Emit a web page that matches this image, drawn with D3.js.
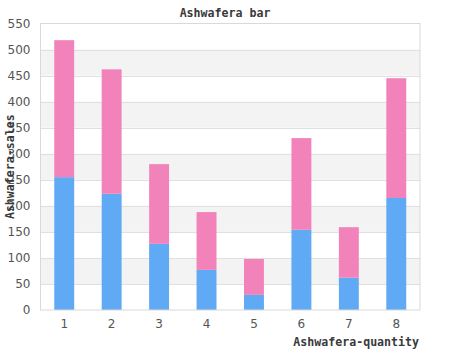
<!DOCTYPE html>
<html>
<head>
<meta charset="utf-8">
<script src="https://cdn.jsdelivr.net/npm/d3@7/dist/d3.min.js"></script>
<style>
  html, body { margin: 0; padding: 0; background: #fff; }
  svg { display: block; }
</style>
</head>
<body>
<svg id="chart" width="450" height="350"></svg>
<script>
// Stacked bar data
const categories = ["1", "2", "3", "4", "5", "6", "7", "8"];
const seriesBase = [255, 223, 127, 77, 29, 154, 62, 215];
const seriesTop = [263, 239, 153, 111, 69, 176, 97, 230];
const yTicks = [0, 50, 100, 150, 200, 250, 300, 350, 400, 450, 500, 550];
const colors = ["#60a9f4", "#f283ba"];

const W = 450, H = 350;
const margin = { left: 40.5, right: 30, top: 23.5, bottom: 40 };
const svg = d3.select("#chart");

const x = d3.scaleBand()
  .domain(categories)
  .range([margin.left, W - margin.right])
  .paddingInner(0.58)
  .paddingOuter(0.29);

const y = d3.scaleLinear()
  .domain([0, 550])
  .range([H - margin.bottom, margin.top]);

// Alternating horizontal bands
const bands = d3.range(0, 550, 50).filter(v => (v / 50) % 2 === 1);
svg.append("g").selectAll("rect").data(bands).join("rect")
  .attr("x", margin.left)
  .attr("width", W - margin.right - margin.left)
  .attr("y", d => y(d + 50))
  .attr("height", d => y(d) - y(d + 50))
  .attr("fill", "#f3f3f3");

// Grid lines
svg.append("g").selectAll("line").data(yTicks.slice(1, -1)).join("line")
  .attr("x1", margin.left).attr("x2", W - margin.right)
  .attr("y1", d => Math.round(y(d)) + 0.5).attr("y2", d => Math.round(y(d)) + 0.5)
  .attr("stroke", "#e0e0e0").attr("stroke-width", 1);

// Stacked bars
const rows = categories.map((c, i) => ({ cat: c, a: seriesBase[i], b: seriesTop[i] }));
const stack = d3.stack().keys(["a", "b"])(rows);
svg.append("g").selectAll("g").data(stack).join("g")
  .attr("fill", (d, i) => colors[i])
  .selectAll("rect").data(d => d).join("rect")
  .attr("x", d => x(d.data.cat))
  .attr("width", x.bandwidth())
  .attr("y", d => y(d[1]))
  .attr("height", d => y(d[0]) - y(d[1]));

// Frame
svg.append("rect")
  .attr("x", margin.left).attr("y", margin.top)
  .attr("width", W - margin.right - margin.left)
  .attr("height", H - margin.bottom - margin.top)
  .attr("fill", "none").attr("stroke", "#d9d9d9").attr("stroke-width", 1);

// Y axis
const yAxis = svg.append("g")
  .attr("transform", `translate(${margin.left},0)`)
  .call(d3.axisLeft(y).tickValues(yTicks).tickSize(0).tickPadding(10));
yAxis.select(".domain").remove();
yAxis.selectAll("text")
  .attr("fill", "#555").attr("font-family", "DejaVu Sans, sans-serif").attr("font-size", 12);

// X axis
const xAxis = svg.append("g")
  .attr("transform", `translate(0,${H - margin.bottom})`)
  .call(d3.axisBottom(x).tickSize(0).tickPadding(9));
xAxis.select(".domain").remove();
xAxis.selectAll("text")
  .attr("fill", "#555").attr("font-family", "DejaVu Sans, sans-serif").attr("font-size", 12);

// Title and axis titles
const titleFont = { family: "DejaVu Sans Mono, monospace", size: 11.6, color: "#3a3a3a" };

svg.append("text")
  .attr("x", 225).attr("y", 17)
  .attr("text-anchor", "middle")
  .attr("font-family", titleFont.family).attr("font-weight", "bold")
  .attr("font-size", titleFont.size).attr("fill", titleFont.color)
  .text("Ashwafera bar");

svg.append("text")
  .attr("transform", `translate(14,${(margin.top + H - margin.bottom) / 2}) rotate(-90)`)
  .attr("text-anchor", "middle")
  .attr("font-family", titleFont.family).attr("font-weight", "bold")
  .attr("font-size", titleFont.size).attr("fill", titleFont.color)
  .text("Ashwafera-sales");

svg.append("text")
  .attr("x", 419).attr("y", 346)
  .attr("text-anchor", "end")
  .attr("font-family", titleFont.family).attr("font-weight", "bold")
  .attr("font-size", titleFont.size).attr("fill", titleFont.color)
  .text("Ashwafera-quantity");
</script>
</body>
</html>
